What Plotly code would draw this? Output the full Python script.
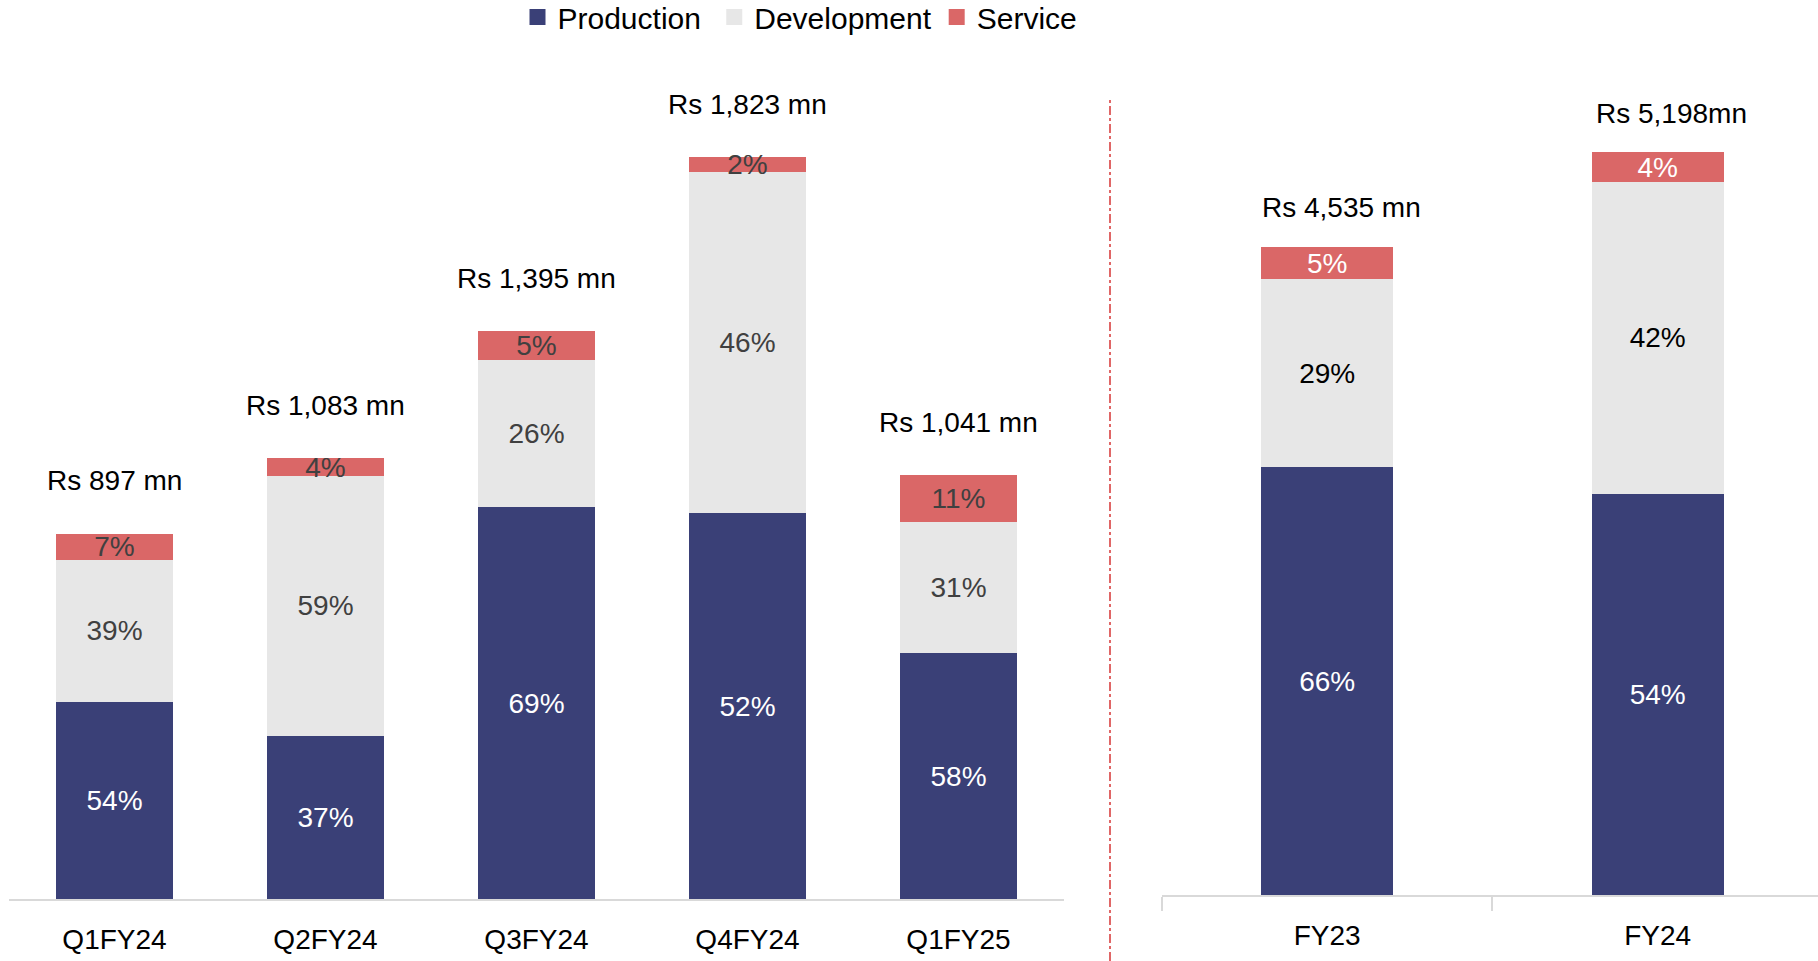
import plotly.graph_objects as go

# ---- data ----
quarters = ["Q1FY24", "Q2FY24", "Q3FY24", "Q4FY24", "Q1FY25"]
q_totals = [897, 1083, 1395, 1823, 1041]
q_prod = [54, 37, 69, 52, 58]
q_dev = [39, 59, 26, 46, 31]
q_serv = [7, 4, 5, 2, 11]
q_total_labels = ["Rs 897 mn", "Rs 1,083 mn", "Rs 1,395 mn", "Rs 1,823 mn", "Rs 1,041 mn"]

years = ["FY23", "FY24"]
y_totals = [4535, 5198]
y_prod = [66, 54]
y_dev = [29, 42]
y_serv = [5, 4]
y_total_labels = ["Rs 4,535 mn", "Rs 5,198mn"]

series_names = ["Production", "Development", "Service"]

# ---- style ----
C_PROD = "#3A4077"
C_DEV = "#E7E7E7"
C_SERV = "#DA6767"
FONT = "Liberation Sans, Arial, sans-serif"

W, H = 1818, 961


def seg(totals, pcts):
    return [t * p / 100 for t, p in zip(totals, pcts)]


fig = go.Figure()

cols = [C_PROD, C_DEV, C_SERV]
left_txt = ["white", "#404040", "#404040"]
right_txt = ["white", "black", "white"]
legend_pad = ["\u00a0", "", ""]

# legend-only entries (square markers)
for name, c, pad in zip(series_names, cols, legend_pad):
    fig.add_trace(go.Scatter(
        x=[None], y=[None], mode="markers", name=name + pad,
        marker=dict(symbol="square", size=17, color=c),
        xaxis="x", yaxis="y", hoverinfo="skip",
    ))

for i, (name, pcts) in enumerate(zip(series_names, [q_prod, q_dev, q_serv])):
    fig.add_trace(go.Bar(
        x=quarters, y=seg(q_totals, pcts), name=name, showlegend=False,
        marker=dict(color=cols[i], line=dict(width=0)),
        text=[f"{p}%" for p in pcts], textposition="inside",
        insidetextanchor="middle", textangle=0, constraintext="none",
        textfont=dict(family=FONT, size=28, color=left_txt[i]),
        width=0.555, xaxis="x", yaxis="y",
        hoverinfo="skip", cliponaxis=False,
    ))

for i, (name, pcts) in enumerate(zip(series_names, [y_prod, y_dev, y_serv])):
    fig.add_trace(go.Bar(
        x=years, y=seg(y_totals, pcts), name=name, showlegend=False,
        marker=dict(color=cols[i], line=dict(width=0)),
        text=[f"{p}%" for p in pcts], textposition="inside",
        insidetextanchor="middle", textangle=0, constraintext="none",
        textfont=dict(family=FONT, size=28, color=right_txt[i]),
        width=0.40, xaxis="x2", yaxis="y2",
        hoverinfo="skip", cliponaxis=False,
    ))

annotations = []
for q, t, lab in zip(quarters, q_totals, q_total_labels):
    annotations.append(dict(x=q, y=t, xref="x", yref="y", text=lab, showarrow=False,
                            yanchor="middle", yshift=53,
                            font=dict(family=FONT, size=28, color="black")))
for q, t, lab in zip(years, y_totals, y_total_labels):
    annotations.append(dict(x=q, y=t, xref="x2", yref="y2", text=lab, showarrow=False,
                            yanchor="middle", yshift=39, xshift=14,
                            font=dict(family=FONT, size=28, color="black")))

fig.update_layout(
    width=W, height=H,
    margin=dict(l=0, r=0, t=0, b=0, autoexpand=False),
    paper_bgcolor="white", plot_bgcolor="white",
    barmode="stack",
    showlegend=True,
    legend=dict(orientation="h", x=800 / W, xanchor="center", y=1 - 17 / H, yanchor="middle",
                font=dict(family=FONT, size=30, color="black"),
                traceorder="normal", bgcolor="rgba(0,0,0,0)"),
    xaxis=dict(domain=[9 / W, 1064 / W], range=[-0.5, 4.5], type="category",
               showline=True, linecolor="#D9D9D9", linewidth=2, showgrid=False,
               ticks="", tickfont=dict(family=FONT, size=28, color="black"),
               ticklabelstandoff=14, anchor="y"),
    yaxis=dict(domain=[62 / H, 1.0], range=[0, 2209], visible=False, anchor="x"),
    xaxis2=dict(domain=[1162 / W, 1.0], range=[-0.5, 1.485], type="category",
                showline=True, linecolor="#D9D9D9", linewidth=2, showgrid=False,
                ticks="outside", tickson="boundaries", ticklen=14, tickcolor="#D9D9D9",
                tickwidth=2, tickfont=dict(family=FONT, size=28, color="black"),
                ticklabelstandoff=14, anchor="y2"),
    yaxis2=dict(domain=[66 / H, 1.0], range=[0, 6263], visible=False, anchor="x2"),
    annotations=annotations,
    shapes=[dict(type="line", xref="paper", yref="paper", x0=1110 / W, x1=1110 / W,
                 y0=0, y1=1 - 99 / H, line=dict(color="#E06666", width=2, dash="dashdot"))],
)

fig.write_html("out.html", config={"displayModeBar": False},
               post_script="document.body.style.margin='0';document.body.style.overflow='hidden';")
